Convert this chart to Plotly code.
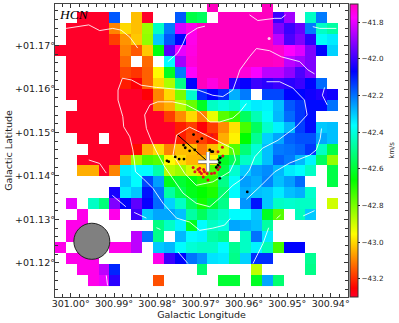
import plotly.graph_objects as go

N = None
R = -43.30
P = -41.70
M = -41.75

CELL_LON = 0.002516
CELL_LAT = 0.002523
LON_EDGE = 301.00362
LAT_EDGE = 1.18023
ZMIN, ZMAX = -43.30, -41.70

velocity_rows = [
    [N,N,N,N,N,N,N,N,N,N,N,N,N,N,P,N,N,N,N,P,N,N,N,N,N,N,N],
    [N,N,R,R,R,-42.17,N,-43.03,R,N,N,-42.17,-42.58,-42.55,N,P,P,P,P,P,-42.0,-41.88,N,-42.43,-42.21,N,N],
    [N,R,R,R,R,-43.1,-43.0,-43.03,-42.84,-42.43,-42.21,-41.82,-41.75,P,P,P,P,P,P,P,-41.92,-42.0,-41.95,-42.21,-42.43,-42.47,N],
    [N,R,R,R,R,-43.18,-43.08,-43.02,-42.83,-42.30,-42.17,-42.07,-41.75,P,P,P,P,P,P,P,-41.85,-41.98,-41.92,-42.02,-42.37,-42.34,N],
    [R,R,R,R,R,R,-43.10,-43.15,-43.02,-42.64,-41.97,-41.8,-41.74,P,P,P,P,P,P,P,-41.72,-41.77,-41.81,-41.92,-42.07,-42.31,N],
    [N,R,R,R,R,R,-43.13,N,-43.13,N,-42.36,-41.88,-41.73,P,P,P,P,P,P,P,-41.71,-41.85,-41.88,-41.92,N,N,N],
    [N,R,R,R,R,R,-43.17,-43.19,-43.14,-42.96,-42.62,-42.21,-41.77,P,P,P,P,-41.73,-41.78,-41.85,-41.85,-41.90,-41.98,-41.92,N,N,N],
    [N,R,R,R,R,R,-43.22,-43.26,-43.14,-43.0,-42.86,-42.50,-42.07,P,-41.74,P,-42.03,-42.06,-42.00,-42.02,-42.0,-42.02,-42.0,-42.07,-42.19,N,N],
    [N,R,R,R,R,R,R,R,-43.26,-43.1,-43.0,-42.8,-42.42,-42.12,-42.07,-42.12,-42.27,-42.21,N,-42.15,-42.15,-42.07,-42.07,-42.05,-42.03,-42.05,N],
    [N,N,R,R,R,R,R,R,R,-43.09,-43.05,-42.87,-42.78,-42.62,-42.43,-42.40,-42.43,-42.37,-42.34,-42.35,-42.29,-42.17,-42.13,-42.08,-42.08,-42.2,N],
    [N,R,R,R,R,R,R,R,R,R,-43.18,-43.09,-43.0,-43.1,-42.93,-42.76,-42.72,-42.55,-42.45,-42.37,-42.28,-42.19,-42.13,-42.08,N,N,N],
    [N,R,R,R,R,R,R,R,R,R,R,-43.22,-43.18,-43.26,-43.18,-43.09,-42.99,-42.74,-42.55,-42.42,-42.35,-42.28,-42.14,-42.08,-42.30,-42.29,N],
    [N,N,R,R,N,R,R,R,R,R,R,-43.22,-43.17,-43.18,-43.22,-43.05,-42.97,-42.66,-42.49,-42.31,-42.26,-42.18,-42.16,-42.16,-42.26,-42.29,N],
    [N,N,N,R,R,R,R,-43.24,-43.05,-43.0,-43.1,-43.03,-43.03,-43.11,-43.03,-42.90,-42.76,-42.52,-42.41,-42.29,-42.21,-42.2,-42.18,-42.13,-42.43,-42.58,N],
    [N,N,R,R,R,R,-43.1,-42.84,-42.74,-42.76,-42.96,-43.0,-43.04,-43.04,-42.97,-42.62,-42.56,-42.43,-42.40,-42.29,-42.18,-42.21,-42.28,-42.35,-42.55,-42.83,N],
    [N,N,-43.05,-43.05,R,-43.1,-42.34,-42.36,-42.36,-42.46,-42.87,-42.84,-42.9,-43.0,-42.75,-42.58,-42.42,-42.30,-42.25,-42.23,-42.28,-42.34,-42.36,-42.43,N,-42.58,N],
    [N,N,N,N,N,N,-42.30,-42.36,-42.15,-42.25,-42.63,-42.6,-42.64,-42.70,-42.72,-42.50,-42.37,-42.25,-42.27,-42.22,-42.29,-42.25,-42.19,N,N,-42.58,N],
    [N,N,N,N,N,-42.04,-42.34,-42.3,-42.09,-42.2,-42.47,-42.57,-42.63,-42.66,-42.69,-42.53,-42.36,-42.27,-42.29,-42.3,-42.34,-42.29,-42.27,-42.42,N,N,N],
    [N,-41.8,N,-42.43,-42.52,-41.92,-42.07,-41.96,-42.06,-42.19,-42.31,-42.43,-42.56,-42.68,-42.6,-42.5,N,-42.24,-42.09,-42.3,-42.43,-42.42,-42.43,-42.43,N,-42.9,N],
    [N,N,M,N,N,M,N,-42.0,-42.3,-42.26,-42.26,-42.29,-42.47,-42.55,-42.47,-42.43,-42.36,-42.36,-42.3,-42.62,-42.76,N,-42.44,-42.3,N,N,N],
    [N,M,M,N,N,N,N,N,N,-42.51,-42.43,-42.35,-42.62,-42.36,-42.43,-42.40,-42.26,-42.27,-42.29,-42.47,N,N,N,N,N,N,N],
    [N,M,M,N,N,N,N,-41.85,-42.2,-42.5,N,-42.28,-42.36,-42.35,-42.47,-42.5,N,-42.43,-42.2,-42.34,N,N,N,N,N,N,N],
    [M,N,M,N,N,M,M,-41.85,N,-42.3,-42.28,-42.36,-42.41,-42.43,-42.43,-42.36,-42.49,-42.43,-42.35,-42.45,-42.74,-42.07,-42.07,N,N,N,N],
    [N,M,M,M,N,N,N,N,N,M,-42.0,-42.07,-42.2,-42.24,-42.33,-42.34,-42.5,-42.31,-42.12,-42.12,N,N,N,-42.49,N,N,N],
    [N,N,M,M,-41.85,-42.11,N,N,N,N,N,N,N,-42.53,N,N,N,N,-42.88,N,N,N,N,-42.5,N,N,N],
    [N,N,N,M,-41.8,-42.02,N,N,N,-43.16,N,N,N,N,N,-42.6,-42.6,N,-42.62,-42.26,-42.53,N,N,N,N,N,N],
]

contour_lon = [
    [301.0024,301.0001,300.9972,300.9947,300.9917,300.9898,300.9878,300.9860],
    [300.9648,300.9661,300.9688,300.9718,300.9741,300.9771,300.9802,300.9825,300.9848,300.9865,300.9867,300.9871,300.9878,300.9892,300.9894,300.9905,300.9905,300.9895,300.9874,300.9852,300.9817,300.9771,300.9722,300.9688,300.9665,300.9642,300.9630,300.9626,300.9604,300.9588,300.9558,300.9531,300.9489,300.9470,300.9455],
    [300.9611,300.9626,300.9642,300.9672,300.9695,300.9718,300.9748,300.9780,300.9814,300.9832,300.9844,300.9840,300.9829,300.9819,300.9798,300.9775,300.9756,300.9726,300.9695,300.9672,300.9642,300.9619,300.9604,300.9592,300.9574,300.9539,300.9497,300.9472,300.9478,300.9505,300.9535,300.9565],
    [300.9771,300.9741,300.9718,300.9680,300.9642,300.9636,300.9649,300.9688,300.9726,300.9752,300.9779,300.9771],
    [300.9604,300.9585,300.9546,300.9531,300.9521],
    [300.9706,300.9723,300.9748,300.9756,300.9768,300.9791],
    [300.9459,300.9443,300.9405],
    [300.9432,300.9437,300.9426],
    [300.9439,300.9442,300.9451,300.9466,300.9512,300.9546,300.9577,300.9611],
    [300.9972,300.9947,300.9932],
    [300.9918,300.9887],
    [300.9868,300.9840],
    [300.9817,300.9808],
    [300.9768,300.9745],
    [300.9932,300.9929],
    [300.9560,300.9573,300.9596],
    [300.9542,300.9533],
    [300.9481,300.9455],
]
contour_lat = [
    [1.1739,1.1742,1.1747,1.1734,1.1739,1.1735,1.1719,1.1694],
    [1.1304,1.1289,1.1282,1.1277,1.1296,1.1305,1.1339,1.1373,1.1396,1.1411,1.1431,1.1461,1.1491,1.1514,1.1537,1.1575,1.1598,1.1625,1.1621,1.1609,1.1604,1.1600,1.1598,1.1586,1.1583,1.1598,1.1632,1.1644,1.1674,1.1693,1.1688,1.1674,1.1663,1.1644,1.1635],
    [1.1567,1.1548,1.1534,1.1525,1.1525,1.1548,1.1564,1.1571,1.1571,1.1564,1.1541,1.1510,1.1483,1.1461,1.1422,1.1388,1.1362,1.1339,1.1331,1.1351,1.1380,1.1396,1.1415,1.1445,1.1465,1.1483,1.1514,1.1541,1.1575,1.1603,1.1617,1.1617],
    [1.1495,1.1513,1.1502,1.1483,1.1464,1.1438,1.1411,1.1388,1.1380,1.1407,1.1449,1.1495],
    [1.1770,1.1757,1.1762,1.1762,1.1770],
    [1.1744,1.1740,1.1724,1.1705,1.1683,1.1663],
    [1.1743,1.1739,1.1739],
    [1.1604,1.1586,1.1564],
    [1.1510,1.1487,1.1461,1.1449,1.1431,1.1411,1.1380,1.1348],
    [1.1438,1.1430,1.1408],
    [1.1357,1.1331],
    [1.1318,1.1305],
    [1.1283,1.1279],
    [1.1228,1.1201],
    [1.1174,1.1151],
    [1.1283,1.1247,1.1201],
    [1.1304,1.1312],
    [1.1310,1.1322],
]

black_lon = [300.9732,300.9713,300.9723,300.9755,300.9741,300.9751,300.9729,300.9774,300.9793,300.9789,300.9765,300.9754,300.9714,300.9709,300.9695,300.9691,300.9688,300.9671,300.9676,300.9672,300.9676,300.9680,300.9672,300.9609]
black_lat = [1.1496,1.1487,1.1480,1.1472,1.1459,1.1466,1.1461,1.1445,1.1436,1.1434,1.1440,1.1440,1.1434,1.1434,1.1461,1.1457,1.1457,1.1443,1.1438,1.1432,1.1426,1.1421,1.1396,1.1365]
red_lon = [300.9690,300.9666,300.9676,300.9665,300.9733,300.9729,300.9722,300.9718,300.9714,300.9710,300.9699,300.9707,300.9701,300.9691,300.9684,300.9676,300.9672,300.9718,300.9709]
red_lat = [1.1495,1.1467,1.1457,1.1447,1.1421,1.1411,1.1416,1.1411,1.1407,1.1399,1.1392,1.1411,1.1407,1.1407,1.1408,1.1416,1.1422,1.1419,1.1416]

jet_lon = [300.9768, 300.9699]
jet_lat = [1.1495, 1.1434]
source_lon = [300.9699]
source_lat = [1.1434]
peak_lon = [300.9559]
peak_lat = [1.1716]

BEAM_LON, BEAM_LAT, BEAM_R = 300.9965, 1.1252, 0.00415

lon_ticks = [301.00, 300.99, 300.98, 300.97, 300.96, 300.95, 300.94]
lon_labels = ["301.00°", "300.99°", "300.98°", "300.97°", "300.96°", "300.95°", "300.94°"]
lat_ticks = [1.17, 1.16, 1.15, 1.14, 1.13, 1.12]
lat_labels = ["+01.17°", "+01.16°", "+01.15°", "+01.14°", "+01.13°", "+01.12°"]
cbar_ticks = [-41.8, -42.0, -42.2, -42.4, -42.6, -42.8, -43.0, -43.2]

gist_rainbow = [
    [0.0, "rgb(255,0,41)"], [0.03, "rgb(255,0,0)"], [0.215, "rgb(255,255,0)"],
    [0.4, "rgb(0,255,0)"], [0.586, "rgb(0,255,255)"], [0.77, "rgb(0,0,255)"],
    [0.954, "rgb(255,0,255)"], [1.0, "rgb(255,0,191)"],
]

FONT = "DejaVu Sans"


def cal_lon(values):
    # The lists above were read on a provisional scale; this ties them to the tick marks.
    return [301.016386 - (301.0176 - v) * 1.0078 for v in values]


def cal_lat(values):
    return [1.180474 - (1.1804 - v) * 1.00525 for v in values]


cell_lon = [LON_EDGE - CELL_LON * (i + 0.5) for i in range(len(velocity_rows[0]))]
cell_lat = [LAT_EDGE - CELL_LAT * (j + 0.5) for j in range(len(velocity_rows))]

fig = go.Figure()
fig.add_trace(go.Heatmap(
    x=cell_lon, y=cell_lat, z=velocity_rows, zmin=ZMIN, zmax=ZMAX,
    colorscale=gist_rainbow, hoverongaps=False,
    colorbar=dict(
        x=1.0085, xanchor="left", y=0, yanchor="bottom", len=1, lenmode="fraction",
        thickness=8, thicknessmode="pixels", outlinecolor="#333333", outlinewidth=1,
        tickvals=cbar_ticks, tickformat=".1f", ticks="outside", ticklen=2, tickcolor="#222222",
        tickfont=dict(family=FONT, size=7.2, color="#222222"), xpad=0, ypad=0,
    ),
))
for lons, lats in zip(contour_lon, contour_lat):
    fig.add_trace(go.Scatter(x=cal_lon(lons), y=cal_lat(lats), mode="lines", showlegend=False,
                             line=dict(color="rgba(255,255,255,0.85)", width=1)))
fig.add_trace(go.Scatter(x=cal_lon(peak_lon), y=cal_lat(peak_lat), mode="markers", showlegend=False,
                         marker=dict(color="rgba(255,255,255,0.8)", size=3)))
fig.add_trace(go.Scatter(x=cal_lon(jet_lon), y=cal_lat(jet_lat), mode="lines", showlegend=False,
                         line=dict(color="black", width=1)))
fig.add_trace(go.Scatter(x=cal_lon(red_lon), y=cal_lat(red_lat), mode="markers", showlegend=False,
                         marker=dict(color="#e01020", size=3)))
fig.add_trace(go.Scatter(x=cal_lon(black_lon), y=cal_lat(black_lat), mode="markers", showlegend=False,
                         marker=dict(color="black", size=2.8)))
fig.add_trace(go.Scatter(x=cal_lon(source_lon), y=cal_lat(source_lat), mode="markers", showlegend=False,
                         marker=dict(symbol="cross-thin", size=14,
                                     line=dict(color="#777777", width=4))))
fig.add_trace(go.Scatter(x=cal_lon(source_lon), y=cal_lat(source_lat), mode="markers", showlegend=False,
                         marker=dict(symbol="cross-thin", size=14,
                                     line=dict(color="white", width=2.6))))

beam_x = cal_lon([BEAM_LON])[0]
beam_y = cal_lat([BEAM_LAT])[0]
fig.add_shape(type="circle", xref="x", yref="y",
              x0=beam_x + BEAM_R, x1=beam_x - BEAM_R,
              y0=beam_y - BEAM_R, y1=beam_y + BEAM_R,
              fillcolor="#808080", line=dict(color="#222222", width=1), layer="above")
fig.add_annotation(text="<i>HCN</i>", x=0.008, y=0.995, xref="paper", yref="paper",
                   xanchor="left", yanchor="top", showarrow=False,
                   font=dict(family="Liberation Serif", size=13.5, color="black"))
fig.add_annotation(text="km/s", x=1.148, y=0.5, xref="paper", yref="paper",
                   xanchor="center", yanchor="middle", showarrow=False, textangle=-90,
                   font=dict(family=FONT, size=7, color="#222222"))

axis_common = dict(
    showgrid=False, zeroline=False, showline=True, linecolor="#444444", linewidth=1.3,
    mirror="allticks", ticks="inside", ticklen=4, tickcolor="#333333", tickwidth=1,
    tickfont=dict(family=FONT, size=9.5, color="#222222"), ticklabelstandoff=-3,
)
fig.update_xaxes(
    range=[301.00362, 300.9360], tickvals=lon_ticks, ticktext=lon_labels,
    title=dict(text="Galactic Longitude", standoff=0, font=dict(family=FONT, size=9.5, color="#222222")),
    minor=dict(ticks="inside", ticklen=2.5, tickcolor="#333333", tick0=301.0, dtick=0.002),
    **axis_common,
)
fig.update_yaxes(
    range=[1.11217, 1.17955], tickvals=lat_ticks, ticktext=lat_labels,
    title=dict(text="Galactic Latitude", standoff=0, font=dict(family=FONT, size=9.5, color="#222222")),
    minor=dict(ticks="inside", ticklen=2.5, tickcolor="#333333", tick0=1.12, dtick=0.002),
    **axis_common,
)
fig.update_layout(
    width=399, height=323, autosize=False, showlegend=False,
    paper_bgcolor="white", plot_bgcolor="white",
    margin=dict(l=55, r=51, t=4, b=26, autoexpand=False),
)
fig.write_html("out.html", config={"displayModeBar": False},
               post_script="document.body.style.margin='0';document.documentElement.style.overflow='hidden';")
